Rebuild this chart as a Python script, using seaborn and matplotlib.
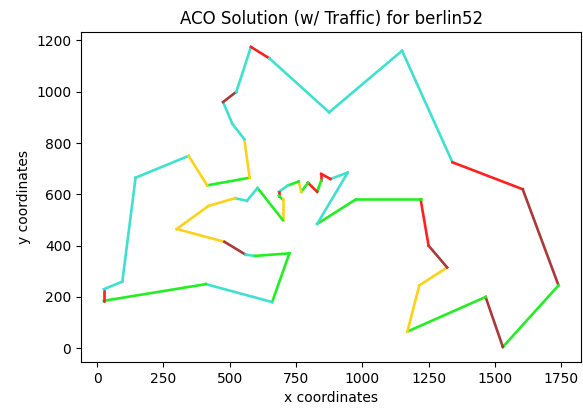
import matplotlib
matplotlib.use("Agg")
import matplotlib.pyplot as plt
import pandas as pd
import seaborn as sns

# berlin52 city coordinates (city ids 1..52)
city_x = [565, 25, 345, 945, 845, 880, 25, 525, 580, 650, 1605, 1220, 1465, 1530,
          845, 725, 145, 415, 510, 560, 300, 520, 480, 835, 975, 1215, 1320, 1250,
          660, 410, 420, 575, 1150, 700, 685, 685, 770, 795, 720, 760, 475, 95,
          875, 700, 555, 830, 1170, 830, 605, 595, 1340, 1740]
city_y = [575, 185, 750, 685, 655, 660, 230, 1000, 1175, 1130, 620, 580, 200, 5,
          680, 370, 665, 635, 875, 365, 465, 585, 415, 625, 580, 245, 315, 400,
          180, 250, 555, 665, 1160, 580, 595, 610, 610, 645, 635, 650, 960, 260,
          920, 500, 815, 485, 65, 610, 625, 360, 725, 245]

# tour found by the ant colony (closed loop)
tour = [18, 32, 45, 19, 41, 8, 9, 10, 43, 33, 51, 11, 52, 14, 13, 47, 26, 27,
        28, 12, 25, 46, 4, 6, 15, 5, 24, 48, 38, 37, 40, 39, 36, 35, 34, 44, 49,
        1, 22, 31, 21, 23, 20, 50, 16, 29, 30, 2, 7, 42, 17, 3]

# traffic level of each edge of the tour
edge_traffic = ["light", "medium", "free", "free", "jam", "free", "heavy", "free",
                "free", "free", "heavy", "jam", "light", "jam", "light", "medium",
                "medium", "jam", "heavy", "light", "light", "free", "free", "heavy",
                "heavy", "light", "light", "heavy", "light", "medium", "light",
                "free", "heavy", "light", "medium", "light", "free", "free",
                "medium", "medium", "medium", "jam", "free", "light", "light",
                "free", "light", "heavy", "free", "free", "free", "medium"]

traffic_colors = {"free": "#40E0D0", "light": "#22EE22", "medium": "#FFD21A",
                  "heavy": "#FF2020", "jam": "#A83A3A"}

fig = plt.figure(figsize=(5.83, 4.09), dpi=100)
ax = fig.add_axes([0.139, 0.115, 0.858, 0.807])

n = len(tour)
for i in range(n):
    a = tour[i] - 1
    b = tour[(i + 1) % n] - 1
    seg = pd.DataFrame({"x": [city_x[a], city_x[b]], "y": [city_y[a], city_y[b]]})
    sns.lineplot(data=seg, x="x", y="y", ax=ax, sort=False, estimator=None,
                 color=traffic_colors[edge_traffic[i]], linewidth=1.9)

ax.set_title("ACO Solution (w/ Traffic) for berlin52", fontsize=12)
ax.set_xlabel("x coordinates", fontsize=10)
ax.set_ylabel("y coordinates", fontsize=10)
ax.set_xticks([0, 250, 500, 750, 1000, 1250, 1500, 1750])
ax.set_yticks([0, 200, 400, 600, 800, 1000, 1200])
ax.tick_params(labelsize=10)

fig.savefig("out.png", dpi=100)
